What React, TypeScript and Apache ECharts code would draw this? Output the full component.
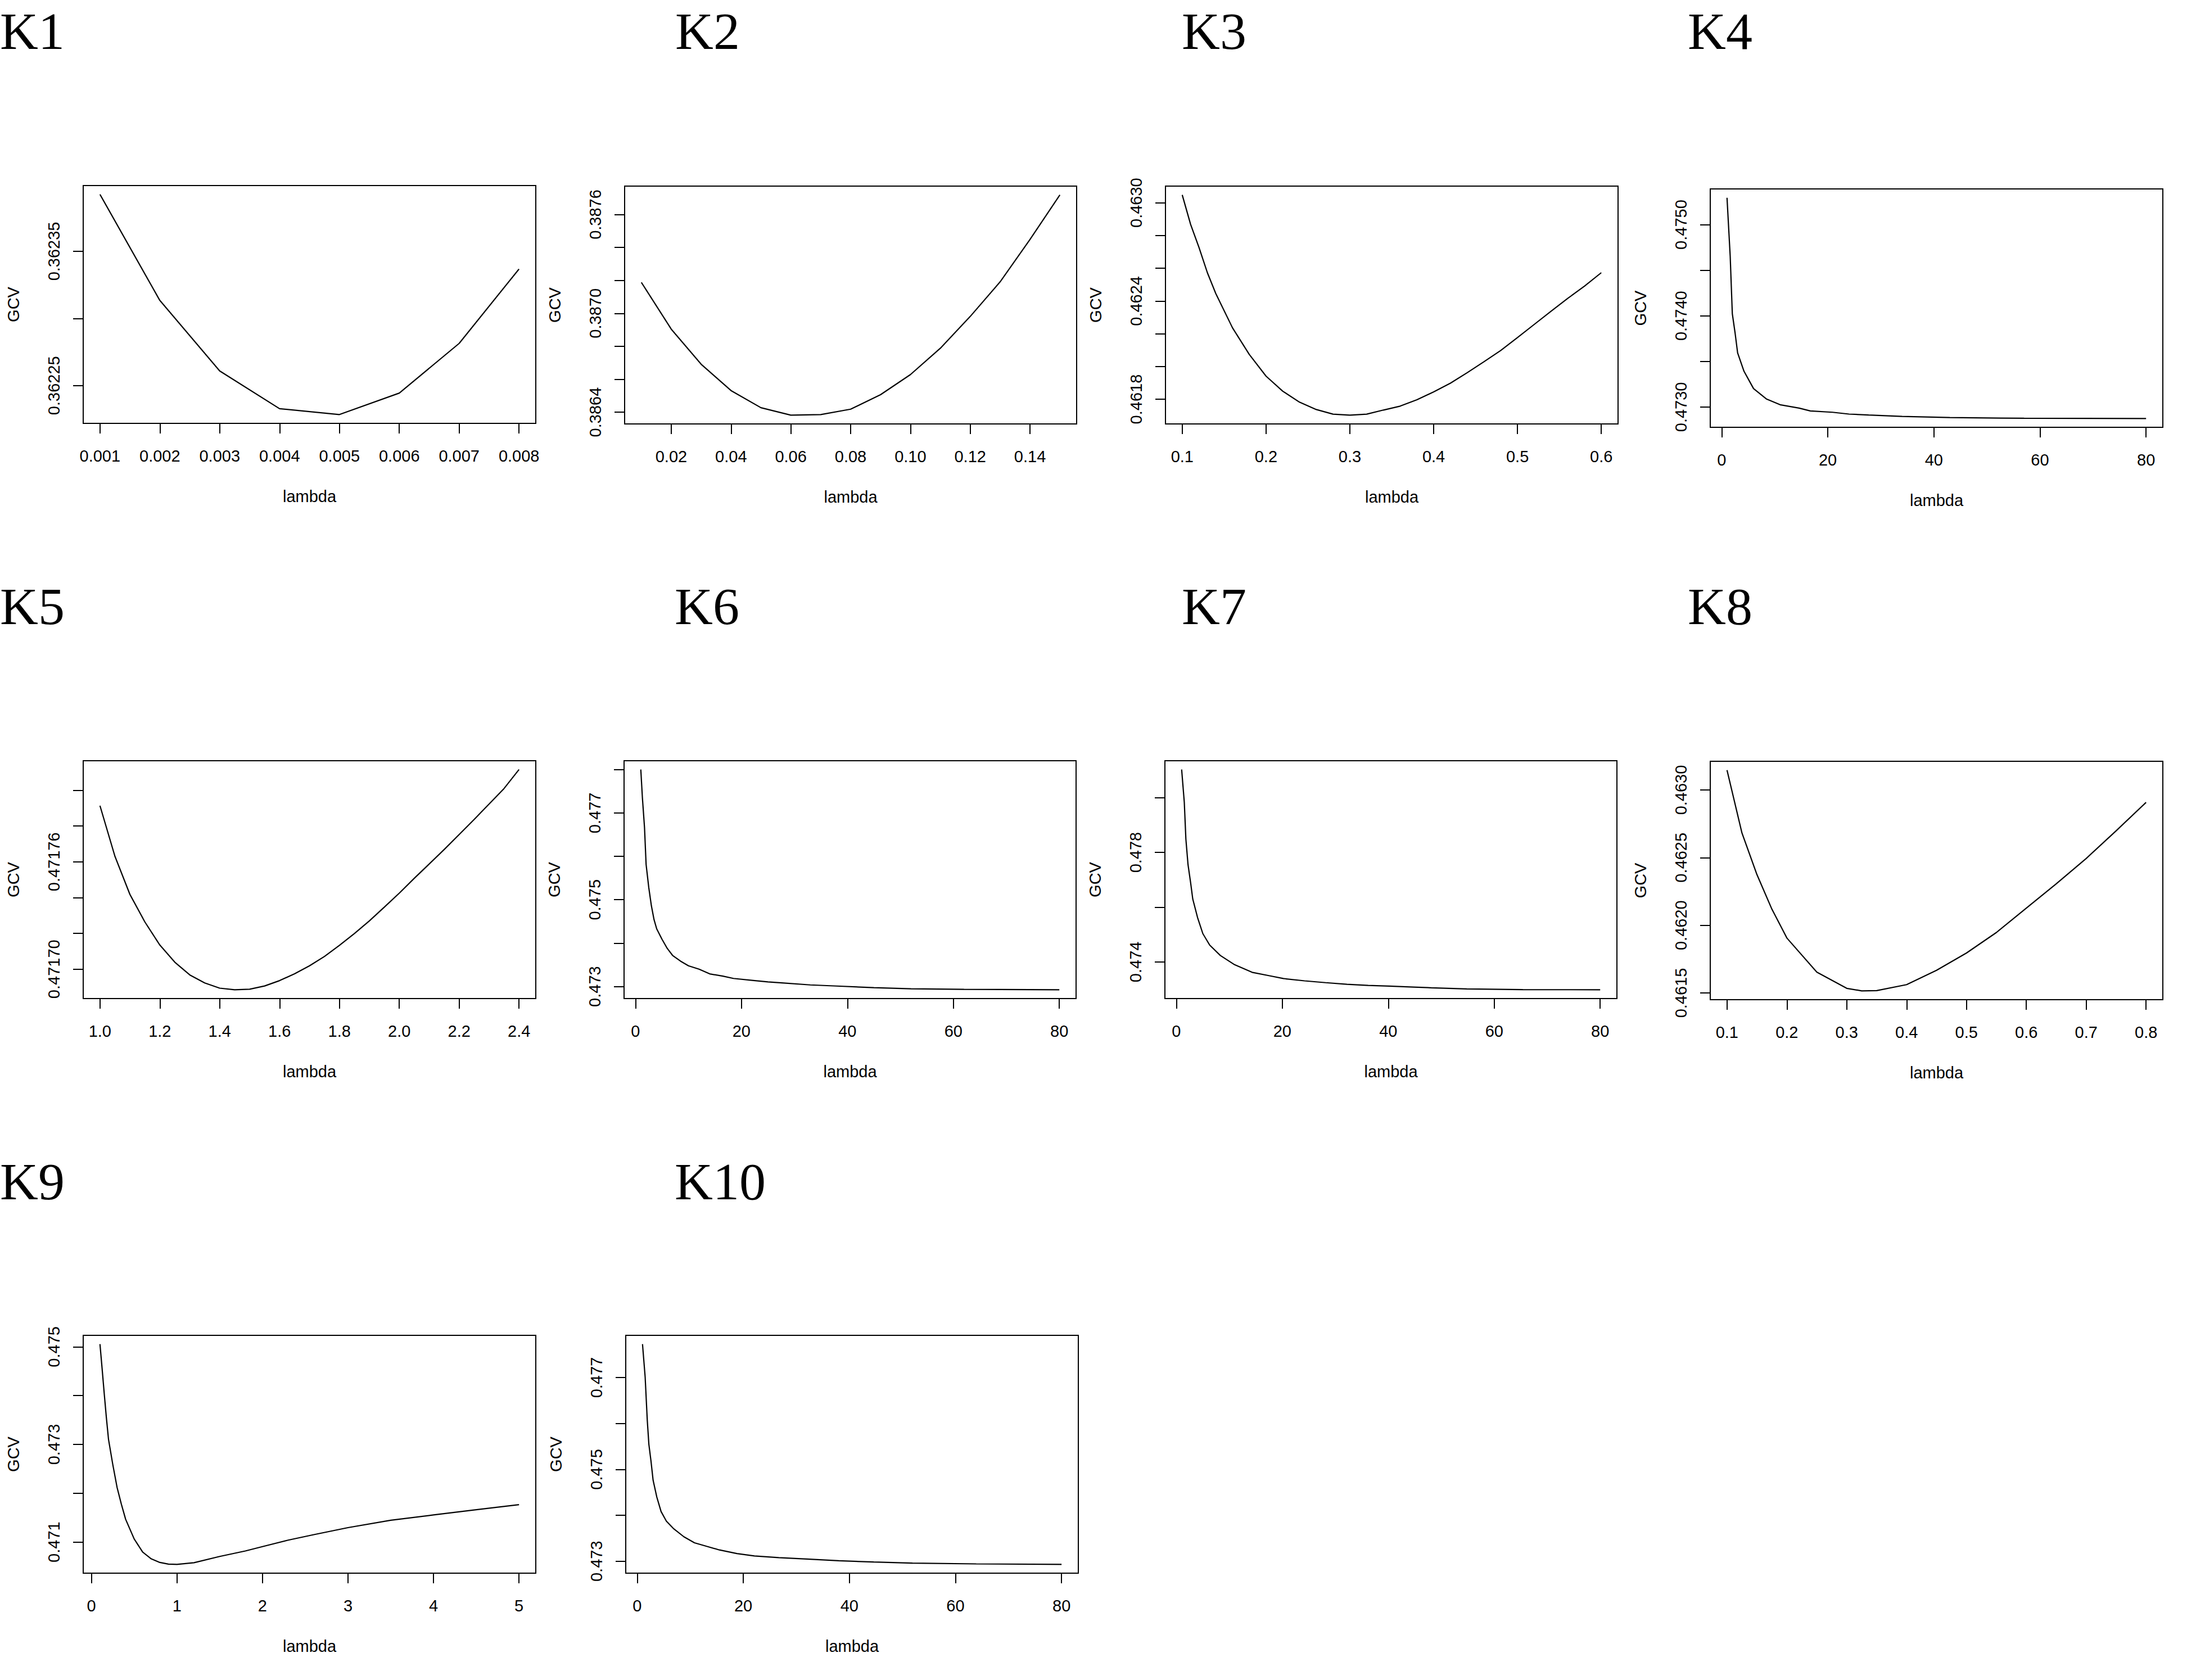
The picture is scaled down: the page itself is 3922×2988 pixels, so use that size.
import React, { useEffect, useRef } from "react";
import * as echarts from "echarts";

// ---------- data ----------
const k1Lambda = [0.001, 0.002, 0.003, 0.004, 0.005, 0.006, 0.007, 0.008];
const k1Gcv = [0.3623924, 0.3623134, 0.3622609, 0.3622328, 0.3622284, 0.3622444, 0.3622814, 0.3623368];
const k1XTicks = [0.001, 0.002, 0.003, 0.004, 0.005, 0.006, 0.007, 0.008];
const k1YTicks = [0.36225, 0.3623, 0.36235];
const k1YLabels = [0.36225, 0.36235];

const k2Lambda = [0.01, 0.02, 0.03, 0.04, 0.05, 0.06, 0.07, 0.08, 0.09, 0.1, 0.11, 0.12, 0.13, 0.14, 0.15];
const k2Gcv = [0.387188, 0.386904, 0.386691, 0.386531, 0.386427, 0.386382, 0.386385, 0.386418, 0.386506, 0.386628, 0.386788, 0.386981, 0.387191, 0.387449, 0.387719];
const k2XTicks = [0.02, 0.04, 0.06, 0.08, 0.1, 0.12, 0.14];
const k2YTicks = [0.3864, 0.3866, 0.3868, 0.387, 0.3872, 0.3874, 0.3876];
const k2YLabels = [0.3864, 0.387, 0.3876];

const k3Lambda = [0.1, 0.11, 0.12, 0.13, 0.14, 0.16, 0.18, 0.2, 0.22, 0.24, 0.26, 0.28, 0.3, 0.32, 0.34, 0.36, 0.38, 0.4, 0.42, 0.44, 0.46, 0.48, 0.5, 0.52, 0.54, 0.56, 0.58, 0.6];
const k3Gcv = [0.463048, 0.462868, 0.462727, 0.462573, 0.462446, 0.462236, 0.462074, 0.461941, 0.461849, 0.461782, 0.461737, 0.461709, 0.461703, 0.461709, 0.461734, 0.461758, 0.461797, 0.461845, 0.461898, 0.461962, 0.462029, 0.462098, 0.462177, 0.462257, 0.462337, 0.462416, 0.462491, 0.462573];
const k3XTicks = [0.1, 0.2, 0.3, 0.4, 0.5, 0.6];
const k3YTicks = [0.4618, 0.462, 0.4622, 0.4624, 0.4626, 0.4628, 0.463];
const k3YLabels = [0.4618, 0.4624, 0.463];

const k4Lambda = [1, 1.6, 2, 2.5, 3, 4.2, 6, 8.4, 11, 14.6, 16.7, 20.9, 24, 27.7, 34, 43, 57, 80];
const k4Gcv = [0.475295, 0.474654, 0.474023, 0.473821, 0.473594, 0.473392, 0.473202, 0.473089, 0.473025, 0.472988, 0.472957, 0.472942, 0.472922, 0.472912, 0.472897, 0.472884, 0.472876, 0.472874];
const k4XTicks = [0, 20, 40, 60, 80];
const k4YTicks = [0.473, 0.4735, 0.474, 0.4745, 0.475];
const k4YLabels = [0.473, 0.474, 0.475];

const k5Lambda = [1.0, 1.05, 1.1, 1.15, 1.2, 1.25, 1.3, 1.35, 1.4, 1.45, 1.5, 1.55, 1.6, 1.65, 1.7, 1.75, 1.8, 1.85, 1.9, 1.95, 2.0, 2.05, 2.1, 2.15, 2.2, 2.25, 2.3, 2.35, 2.4];
const k5Gcv = [0.4717914, 0.4717631, 0.4717418, 0.4717264, 0.4717135, 0.4717039, 0.4716968, 0.4716923, 0.4716894, 0.4716885, 0.4716888, 0.4716906, 0.4716936, 0.4716974, 0.4717019, 0.4717071, 0.4717133, 0.4717199, 0.471727, 0.4717347, 0.4717425, 0.4717508, 0.4717588, 0.4717669, 0.4717753, 0.4717837, 0.4717923, 0.471801, 0.4718116];
const k5XTicks = [1.0, 1.2, 1.4, 1.6, 1.8, 2.0, 2.2, 2.4];
const k5YTicks = [0.4717, 0.47172, 0.47174, 0.47176, 0.47178, 0.4718];
const k5YLabels = [0.4717, 0.47176];

const k6Lambda = [1, 1.3, 1.7, 2, 2.5, 3, 3.5, 4, 5, 6, 7, 8.5, 10, 12, 14, 16.5, 18.5, 22, 25, 28, 33, 38, 45, 52, 62, 80];
const k6Gcv = [0.478, 0.477357, 0.476667, 0.475816, 0.475285, 0.47486, 0.474541, 0.474329, 0.474089, 0.473877, 0.473717, 0.473585, 0.473478, 0.473399, 0.473292, 0.473239, 0.473186, 0.473143, 0.473106, 0.47308, 0.473037, 0.473011, 0.472973, 0.472947, 0.472936, 0.472926];
const k6XTicks = [0, 20, 40, 60, 80];
const k6YTicks = [0.473, 0.474, 0.475, 0.476, 0.477, 0.478];
const k6YLabels = [0.473, 0.475, 0.477];

const k7Lambda = [1, 1.5, 1.8, 2.2, 2.7, 3.1, 4, 5, 6.3, 8.3, 11, 14.3, 17.6, 20.2, 24.2, 28.2, 32.2, 36.2, 40.2, 44.8, 48.1, 54.8, 65.4, 80];
const k7Gcv = [0.481027, 0.479832, 0.478485, 0.47756, 0.476886, 0.476297, 0.475624, 0.475035, 0.474614, 0.474236, 0.473899, 0.473621, 0.473495, 0.473394, 0.47331, 0.473243, 0.473184, 0.473142, 0.473116, 0.473083, 0.473058, 0.473015, 0.47299, 0.472985];
const k7XTicks = [0, 20, 40, 60, 80];
const k7YTicks = [0.474, 0.476, 0.478, 0.48];
const k7YLabels = [0.474, 0.478];

const k8Lambda = [0.1, 0.125, 0.15, 0.175, 0.2, 0.25, 0.3, 0.325, 0.35, 0.4, 0.45, 0.5, 0.55, 0.6, 0.65, 0.7, 0.75, 0.8];
const k8Gcv = [0.4631466, 0.4626813, 0.4623744, 0.4621188, 0.4619057, 0.4616534, 0.4615341, 0.4615154, 0.4615171, 0.4615614, 0.4616671, 0.4617949, 0.4619466, 0.4621273, 0.4623063, 0.4624938, 0.4626983, 0.462908];
const k8XTicks = [0.1, 0.2, 0.3, 0.4, 0.5, 0.6, 0.7, 0.8];
const k8YTicks = [0.4615, 0.462, 0.4625, 0.463];
const k8YLabels = [0.4615, 0.462, 0.4625, 0.463];

const k9Lambda = [0.1, 0.125, 0.15, 0.175, 0.2, 0.25, 0.3, 0.35, 0.4, 0.5, 0.6, 0.7, 0.8, 0.9, 1.0, 1.2, 1.5, 1.8, 2.0, 2.3, 2.6, 3.0, 3.5, 4.0, 4.5, 5.0];
const k9Gcv = [0.475054, 0.474553, 0.474037, 0.473545, 0.473103, 0.472587, 0.47212, 0.471776, 0.471467, 0.471064, 0.470794, 0.470656, 0.470582, 0.470548, 0.470543, 0.470577, 0.470705, 0.470818, 0.470907, 0.471039, 0.471152, 0.471295, 0.471447, 0.471555, 0.471663, 0.471767];
const k9XTicks = [0, 1, 2, 3, 4, 5];
const k9YTicks = [0.471, 0.472, 0.473, 0.474, 0.475];
const k9YLabels = [0.471, 0.473, 0.475];

const k10Lambda = [1, 1.5, 1.9, 2.2, 2.6, 3, 3.7, 4.5, 5.5, 6.8, 8.8, 10.8, 13.1, 15.5, 18.8, 22.1, 26.7, 32, 38, 44.6, 51.9, 63.9, 80];
const k10Gcv = [0.477727, 0.47701, 0.476069, 0.475546, 0.47518, 0.474762, 0.474396, 0.474082, 0.473873, 0.473716, 0.473533, 0.473402, 0.473324, 0.473246, 0.473167, 0.473115, 0.473078, 0.473047, 0.47301, 0.472984, 0.472958, 0.472942, 0.472932];
const k10XTicks = [0, 20, 40, 60, 80];
const k10YTicks = [0.473, 0.474, 0.475, 0.476, 0.477];
const k10YLabels = [0.473, 0.475, 0.477];

const panelNames = ["K1", "K2", "K3", "K4", "K5", "K6", "K7", "K8", "K9", "K10"];

const panels = [
  { lambda: k1Lambda, gcv: k1Gcv, xTicks: k1XTicks, xLabels: k1XTicks, xDec: 3, yTicks: k1YTicks, yLabels: k1YLabels, yDec: 5 },
  { lambda: k2Lambda, gcv: k2Gcv, xTicks: k2XTicks, xLabels: k2XTicks, xDec: 2, yTicks: k2YTicks, yLabels: k2YLabels, yDec: 4 },
  { lambda: k3Lambda, gcv: k3Gcv, xTicks: k3XTicks, xLabels: k3XTicks, xDec: 1, yTicks: k3YTicks, yLabels: k3YLabels, yDec: 4 },
  { lambda: k4Lambda, gcv: k4Gcv, xTicks: k4XTicks, xLabels: k4XTicks, xDec: 0, yTicks: k4YTicks, yLabels: k4YLabels, yDec: 4 },
  { lambda: k5Lambda, gcv: k5Gcv, xTicks: k5XTicks, xLabels: k5XTicks, xDec: 1, yTicks: k5YTicks, yLabels: k5YLabels, yDec: 5 },
  { lambda: k6Lambda, gcv: k6Gcv, xTicks: k6XTicks, xLabels: k6XTicks, xDec: 0, yTicks: k6YTicks, yLabels: k6YLabels, yDec: 3 },
  { lambda: k7Lambda, gcv: k7Gcv, xTicks: k7XTicks, xLabels: k7XTicks, xDec: 0, yTicks: k7YTicks, yLabels: k7YLabels, yDec: 3 },
  { lambda: k8Lambda, gcv: k8Gcv, xTicks: k8XTicks, xLabels: k8XTicks, xDec: 1, yTicks: k8YTicks, yLabels: k8YLabels, yDec: 4 },
  { lambda: k9Lambda, gcv: k9Gcv, xTicks: k9XTicks, xLabels: k9XTicks, xDec: 0, yTicks: k9YTicks, yLabels: k9YLabels, yDec: 3 },
  { lambda: k10Lambda, gcv: k10Gcv, xTicks: k10XTicks, xLabels: k10XTicks, xDec: 0, yTicks: k10YTicks, yLabels: k10YLabels, yDec: 3 },
];

// ---------- layout (pixel positions of each plot box and title) ----------
const layout = [
  { left: 148, top: 330, width: 805, height: 423, titleX: 0, titleBase: 87 },
  { left: 1111, top: 331, width: 804, height: 423, titleX: 1201, titleBase: 87 },
  { left: 2073, top: 331, width: 805, height: 423, titleX: 2102, titleBase: 87 },
  { left: 3042, top: 336, width: 805, height: 424, titleX: 3002, titleBase: 87 },
  { left: 148, top: 1353, width: 805, height: 423, titleX: 0, titleBase: 1110 },
  { left: 1110, top: 1353, width: 804, height: 423, titleX: 1200, titleBase: 1110 },
  { left: 2072, top: 1353, width: 804, height: 423, titleX: 2102, titleBase: 1110 },
  { left: 3042, top: 1354, width: 805, height: 424, titleX: 3002, titleBase: 1110 },
  { left: 148, top: 2375, width: 805, height: 423, titleX: 0, titleBase: 2133 },
  { left: 1113, top: 2375, width: 805, height: 423, titleX: 1200, titleBase: 2133 },
];

const SANS = "'Liberation Sans', Arial, sans-serif";
const SERIF = "'Liberation Serif', 'Times New Roman', serif";
const FS = 29;
const TITLE_FS = 94;

function padRange(arr: number[]): [number, number] {
  const mn = Math.min(...arr);
  const mx = Math.max(...arr);
  const r = mx - mn;
  return [mn - 0.04 * r, mx + 0.04 * r];
}

function buildOption() {
  const grid = layout.map((L) => ({
    left: L.left,
    top: L.top,
    width: L.width,
    height: L.height,
    show: true,
    borderColor: "#000",
    borderWidth: 2,
    backgroundColor: "transparent",
    containLabel: false,
    outerBoundsMode: "none",
  }));

  const xAxis = panels.map((p, i) => {
    const [mn, mx] = padRange(p.lambda);
    return {
      type: "value",
      gridIndex: i,
      min: mn,
      max: mx,
      name: "lambda",
      nameLocation: "middle",
      nameGap: 115.5,
      nameTextStyle: { fontFamily: SANS, fontSize: FS, lineHeight: FS, color: "#000" },
      axisLine: { show: false, onZero: false },
      axisTick: {
        show: true,
        inside: false,
        length: 18,
        customValues: p.xTicks,
        lineStyle: { color: "#000", width: 2 },
      },
      axisLabel: {
        show: true,
        customValues: p.xLabels,
        margin: 43,
        fontFamily: SANS,
        fontSize: FS,
        lineHeight: FS,
        color: "#000",
        formatter: (v: number) => Number(v).toFixed(p.xDec),
      },
      splitLine: { show: false },
    };
  });

  const yAxis = panels.map((p, i) => {
    const [mn, mx] = padRange(p.gcv);
    return {
      type: "value",
      gridIndex: i,
      min: mn,
      max: mx,
      name: "GCV",
      nameLocation: "middle",
      nameGap: 109.5,
      nameTextStyle: { fontFamily: SANS, fontSize: FS, lineHeight: FS, color: "#000" },
      axisLine: { show: false, onZero: false },
      axisTick: {
        show: true,
        inside: false,
        length: 18,
        customValues: p.yTicks,
        lineStyle: { color: "#000", width: 2 },
      },
      axisLabel: {
        show: true,
        customValues: p.yLabels,
        rotate: 90,
        margin: 37.5,
        fontFamily: SANS,
        fontSize: FS,
        lineHeight: FS,
        color: "#000",
        formatter: (v: number) => Number(v).toFixed(p.yDec),
      },
      splitLine: { show: false },
    };
  });

  const series = panels.map((p, i) => ({
    type: "line",
    name: panelNames[i],
    xAxisIndex: i,
    yAxisIndex: i,
    data: p.lambda.map((x, j) => [x, p.gcv[j]]),
    showSymbol: false,
    symbol: "none",
    smooth: false,
    silent: true,
    lineStyle: { color: "#000", width: 2.2 },
  }));

  const title = layout.map((L, i) => ({
    text: panelNames[i],
    left: L.titleX,
    top: L.titleBase - TITLE_FS * 0.3375 - TITLE_FS / 2,
    padding: 0,
    textStyle: {
      fontFamily: SERIF,
      fontSize: TITLE_FS,
      fontWeight: "normal",
      color: "#000",
      lineHeight: TITLE_FS,
    },
  }));

  return {
    animation: false,
    backgroundColor: "#ffffff",
    title,
    grid,
    xAxis,
    yAxis,
    series,
  };
}

export default function App() {
  const ref = useRef<HTMLDivElement | null>(null);
  useEffect(() => {
    if (!ref.current) return;
    const chart = echarts.init(ref.current, undefined, { renderer: "svg" });
    chart.setOption(buildOption() as any);
    return () => {
      chart.dispose();
    };
  }, []);
  return (
    <div
      ref={ref}
      style={{ position: "absolute", left: 0, top: 0, width: 3922, height: 2988, background: "#fff" }}
    />
  );
}
